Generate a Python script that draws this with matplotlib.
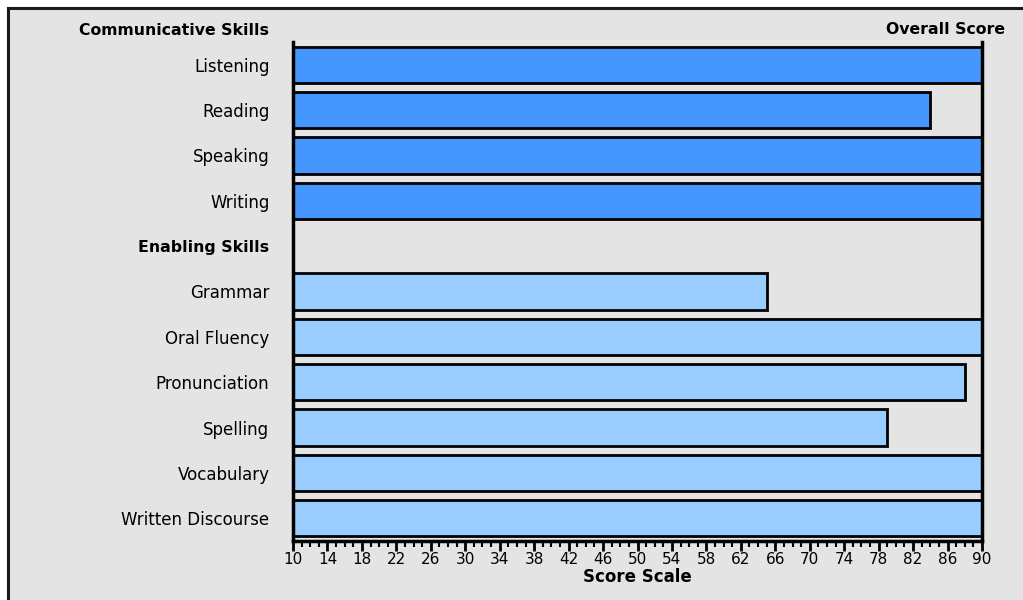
import matplotlib
matplotlib.use("Agg")
import matplotlib.pyplot as plt
from matplotlib.lines import Line2D
from matplotlib.ticker import MultipleLocator

categories = ["Listening", "Reading", "Speaking", "Writing", "Enabling Skills",
              "Grammar", "Oral Fluency", "Pronunciation", "Spelling", "Vocabulary",
              "Written Discourse"]
scores = [90, 84, 90, 90, None, 65, 90, 88, 79, 90, 90]
groups = ["comm", "comm", "comm", "comm", "header",
          "enab", "enab", "enab", "enab", "enab", "enab"]
group_colors = {"comm": "#4596FF", "enab": "#99CCFF"}
x_min, x_max = 10, 90
major_ticks = list(range(10, 91, 4))

plt.rcParams['font.family'] = ['DejaVu Sans']
bg = "#E4E4E4"
fig = plt.figure(figsize=(10.23, 6.0), dpi=100)
fig.patch.set_facecolor(bg)
# white outer strip on top and left, with dark frame line
fig.add_artist(plt.Rectangle((0, 1 - 8/600), 1, 8/600, transform=fig.transFigure,
                             facecolor="white", edgecolor="none", zorder=-5))
fig.add_artist(plt.Rectangle((0, 0), 8/1023, 1, transform=fig.transFigure,
                             facecolor="white", edgecolor="none", zorder=-5))
fig.add_artist(Line2D([8/1023, 8/1023], [0, 1 - 8/600], transform=fig.transFigure,
                      color="#1a1a1a", linewidth=2.2))
fig.add_artist(Line2D([8/1023, 1], [1 - 8/600, 1 - 8/600], transform=fig.transFigure,
                      color="#1a1a1a", linewidth=2.2))

ax = fig.add_axes([293/1023, 1 - 541/600, (982-293)/1023, (541-42)/600])
ax.set_facecolor(bg)
ax.patch.set_alpha(0)

ypos = list(range(len(categories)))
for y, v, g in zip(ypos, scores, groups):
    if v is None:
        continue
    ax.barh(y, v - x_min, left=x_min, height=0.8, color=group_colors[g],
            edgecolor="black", linewidth=2, zorder=3)

ax.set_xlim(x_min, x_max)
ax.set_ylim(len(categories) - 0.5, -0.5)
ax.set_yticks(ypos)
ax.set_yticklabels(categories, fontsize=12)
for lbl, g in zip(ax.get_yticklabels(), groups):
    lbl.set_verticalalignment("center_baseline")
    if g == "header":
        lbl.set_fontweight("bold")
        lbl.set_fontsize(11.3)
ax.tick_params(axis="y", length=0, pad=17)

ax.set_xticks(major_ticks)
ax.set_xticklabels([str(t) for t in major_ticks], fontsize=11)
ax.xaxis.set_minor_locator(MultipleLocator(1))
ax.tick_params(axis="x", which="major", length=7, width=2, pad=1, direction="out")
ax.tick_params(axis="x", which="minor", length=4, width=1.5, direction="out")
ax.set_xlabel("Score Scale", fontsize=12, fontweight="bold", labelpad=1)

ax.spines["top"].set_visible(False)
for s in ["left", "right", "bottom"]:
    ax.spines[s].set_linewidth(2.5)
    ax.spines[s].set_zorder(4)

ax.text(-24/689, -0.76, "Communicative Skills", transform=ax.get_yaxis_transform(),
        ha="right", va="center", fontsize=11.3, fontweight="bold")
fig.text(1005/1023, 1 - 29/600, "Overall Score", ha="right", va="center",
         fontsize=11.3, fontweight="bold")

fig.savefig("out.png", dpi=100, facecolor=fig.get_facecolor())
